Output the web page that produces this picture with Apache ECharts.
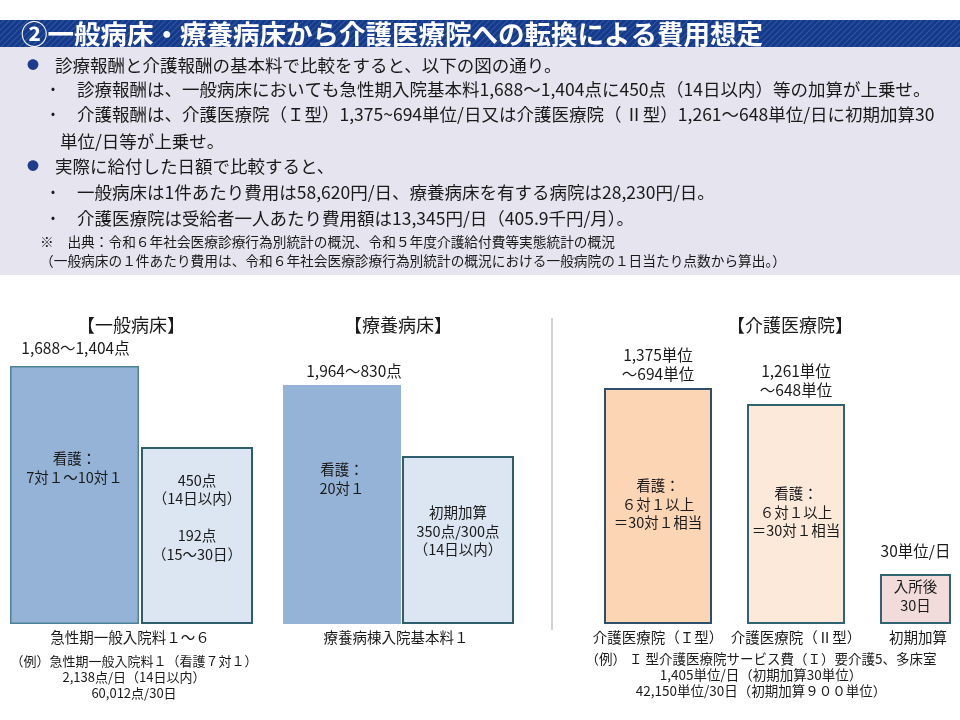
<!DOCTYPE html>
<html><head><meta charset="utf-8">
<script src="https://cdn.jsdelivr.net/npm/echarts@6/dist/echarts.min.js"></script>
<style>html,body{margin:0;padding:0;background:#fff}#c{width:960px;height:720px}</style>
</head><body><div id="c"></div>
<script>
// ---- data ----
const barNames = ['急性期一般入院料１～６', '一般病床の加算', '療養病棟入院基本料１', '療養病床の初期加算', '介護医療院（Ｉ型）', '介護医療院（Ⅱ型）', '初期加算'];
const barHeights = [258, 177, 239, 168, 236, 220, 50]; // schematic heights
const topLabels = ['1,688～1,404点', '', '1,964～830点', '', '1,375単位\n～694単位', '1,261単位\n～648単位', '30単位/日'];
const innerLabels = ['看護：\n7対１～10対１', '450点\n（14日以内）\n\n192点\n（15～30日）', '看護：\n20対１', '初期加算\n350点/300点\n（14日以内）', '看護：\n６対１以上\n＝30対１相当', '看護：\n６対１以上\n＝30対１相当', '入所後\n30日'];
const panelTitles = ['【一般病床】', '【療養病床】', '【介護医療院】'];
const bodyLines = [
  '診療報酬と介護報酬の基本料で比較をすると、以下の図の通り。',
  '診療報酬は、一般病床においても急性期入院基本料1,688～1,404点に450点（14日以内）等の加算が上乗せ。',
  '介護報酬は、介護医療院（Ｉ型）1,375~694単位/日又は介護医療院（ Ⅱ型）1,261～648単位/日に初期加算30',
  '単位/日等が上乗せ。',
  '実際に給付した日額で比較すると、',
  '一般病床は1件あたり費用は58,620円/日、療養病床を有する病院は28,230円/日。',
  '介護医療院は受給者一人あたり費用額は13,345円/日（405.9千円/月）。'
];
const bodyMarks = ['●', '・', '・', '', '●', '・', '・'];
const noteLines = ['※　出典：令和６年社会医療診療行為別統計の概況、令和５年度介護給付費等実態統計の概況',
  '（一般病床の１件あたり費用は、令和６年社会医療診療行為別統計の概況における一般病院の１日当たり点数から算出。）'];
const titleText = '②一般病床・療養病床から介護医療院への転換による費用想定';
const bottomLeft = ['（例）急性期一般入院料１（看護７対１）', '2,138点/日（14日以内）', '60,012点/30日'];
const bottomRight = ['（例） Ｉ 型介護医療院サービス費（Ｉ）要介護5、多床室', '1,405単位/日（初期加算30単位）', '42,150単位/30日（初期加算９００単位）'];

// ---- layout / style ----
const boxes = [[10, 129], [141, 112], [283, 118], [402, 112], [604, 108], [747, 98], [880, 71]];
const innerY = [102, 70, 94, 75, 116, 108, 22];
const topDist = [9, 0, 5, 5, 5, 5, 14];
const topDx = [1, 0, 12, 0, 0, 0, 0];
const fills = ['#95B3D7', '#DCE6F2', '#95B3D7', '#DCE6F2', '#FCD5B5', '#FDE9D9', '#F2DCDB'];
const borders = ['#4D8297', '#2F5E6A', '#95B3D7', '#2F5E6A', '#2D4F6B', '#2F6470', '#2F6470'];
const borderW = [1.5, 2, 0, 2, 2, 2, 2];
const FF = '"Noto Sans CJK JP", "Noto Sans", sans-serif';
const INK = '#1a1a1a';

function hatch() {
  const c = document.createElement('canvas'); c.width = 6; c.height = 6;
  const g = c.getContext('2d');
  g.fillStyle = '#163A8A'; g.fillRect(0, 0, 6, 6);
  g.strokeStyle = '#2E55A2'; g.lineWidth = 1.2;
  g.beginPath(); g.moveTo(-1, 7); g.lineTo(7, -1); g.moveTo(-1, 1); g.lineTo(1, -1); g.moveTo(5, 7); g.lineTo(7, 5); g.stroke();
  return c;
}

const grids = [], xAxes = [], yAxes = [], series = [];
barHeights.forEach((h, i) => {
  grids.push({ left: boxes[i][0], width: boxes[i][1], bottom: 96, height: 300 });
  xAxes.push({ type: 'category', gridIndex: i, data: [barNames[i]], show: false });
  yAxes.push({ type: 'value', gridIndex: i, min: 0, max: 300, show: false });
  series.push({
    type: 'bar', xAxisIndex: i, yAxisIndex: i, barWidth: '100%', barGap: '-100%', silent: true,
    data: [h],
    itemStyle: { color: fills[i], borderColor: borders[i], borderWidth: borderW[i] },
    label: { show: true, position: [boxes[i][1] / 2, innerY[i]], align: 'center', verticalAlign: 'middle',
      formatter: innerLabels[i], fontFamily: FF, fontSize: 14.5, lineHeight: 18.5, color: INK }
  });
  series.push({
    type: 'bar', xAxisIndex: i, yAxisIndex: i, barWidth: '100%', barGap: '-100%', silent: true,
    data: [h], itemStyle: { color: 'rgba(0,0,0,0)' },
    label: { show: topLabels[i] !== '', position: 'top', distance: topDist[i], offset: [topDx[i], 0],
      formatter: topLabels[i], fontFamily: FF, fontSize: 15.5, lineHeight: 18.5, color: INK }
  });
});

function txt(x, y, s, size, opts) {
  return { type: 'text', x: x, y: y, silent: true,
    style: Object.assign({ text: s, fontSize: size, fontFamily: FF, fill: INK, verticalAlign: 'middle', align: 'left' }, opts || {}) };
}

const g = [];
g.push({ type: 'rect', shape: { x: 0, y: 47, width: 960, height: 228 }, style: { fill: '#E5E4EF' }, silent: true });
g.push({ type: 'rect', shape: { x: 0, y: 20, width: 960, height: 27 }, style: { fill: { image: hatch(), repeat: 'repeat' } }, silent: true });
g.push(txt(21, 33.5, titleText, 26.5, { fill: '#fff', fontWeight: 'bold' }));
const bodyY = [65, 89, 114, 141, 166, 192, 218];
bodyLines.forEach((s, i) => {
  const m = bodyMarks[i];
  if (m === '●') { g.push(txt(33, bodyY[i], '●', 12, { fill: '#1F3C8C', align: 'center' })); g.push(txt(55, bodyY[i], s, 17.5)); }
  else if (m === '・') { g.push(txt(53, bodyY[i], '・', 15, { align: 'center' })); g.push(txt(77, bodyY[i], s, 17.5)); }
  else g.push(txt(60, bodyY[i], s, 17.5));
});
g.push(txt(40, 242, noteLines[0], 13.7));
g.push(txt(40, 261, noteLines[1], 13.7));

// panel titles
const ptx = [131, 398, 790];
panelTitles.forEach((s, i) => g.push(txt(ptx[i], 325, s, 18, { align: 'center' })));
// separator
g.push({ type: 'line', shape: { x1: 552, y1: 318, x2: 552, y2: 630 }, style: { stroke: '#C0C0C0', lineWidth: 1.5 }, silent: true });
// bottom captions
g.push(txt(130, 637, barNames[0], 14.5, { align: 'center' }));
g.push(txt(396, 637, barNames[2], 14.5, { align: 'center' }));
g.push(txt(658, 637, barNames[4], 14.5, { align: 'center' }));
g.push(txt(796, 637, barNames[5], 14.5, { align: 'center' }));
g.push(txt(918, 637, barNames[6], 14.5, { align: 'center' }));
bottomLeft.forEach((s, i) => g.push(txt(134, 661 + i * 16, s, 13, { align: 'center' })));
bottomRight.forEach((s, i) => g.push(txt(761, 659 + i * 16, s, 13.5, { align: 'center' })));

const chart = echarts.init(document.getElementById('c'));
chart.setOption({
  animation: false,
  backgroundColor: '#fff',
  grid: grids, xAxis: xAxes, yAxis: yAxes, series: series,
  graphic: { elements: g }
});
</script></body></html>
